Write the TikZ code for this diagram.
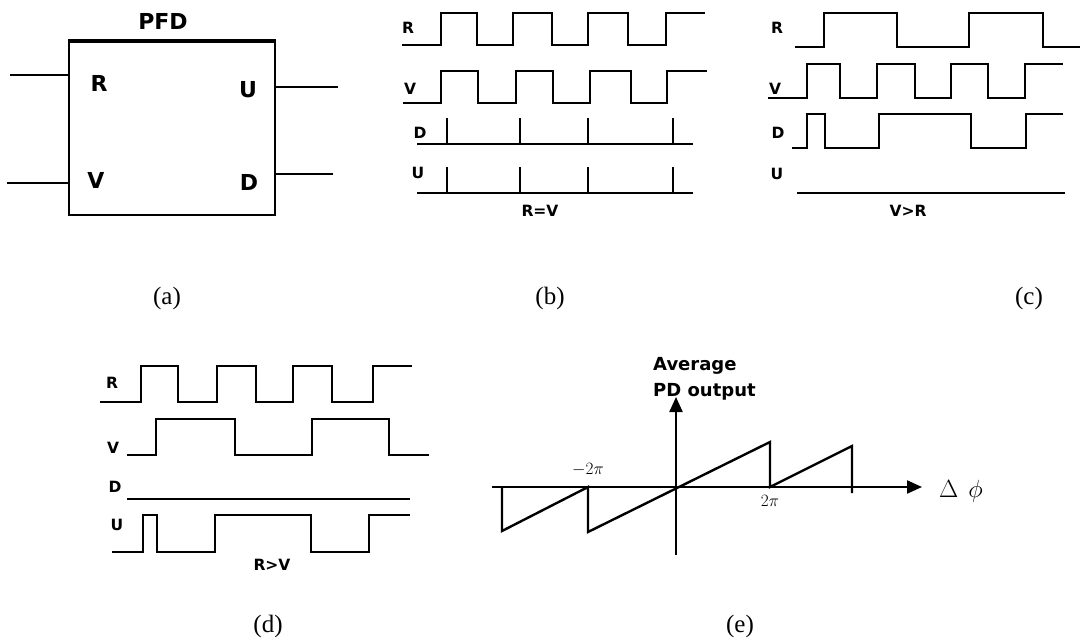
\documentclass[tikz,border=0pt]{standalone}
\usepackage{fontspec}
\newfontfamily\labfont{DejaVu Sans}
\newfontfamily\captfont{Liberation Serif}
\usetikzlibrary{arrows.meta}
\begin{document}
\begin{tikzpicture}[x=1pt,y=-1pt,
  wave/.style={line width=1.9pt, line join=miter},
  lab/.style={font=\labfont\bfseries\fontsize{15.5}{17}\selectfont, inner sep=0pt},
  biglab/.style={font=\labfont\bfseries\fontsize{22}{24}\selectfont, inner sep=0pt},
  avg/.style={font=\labfont\bfseries\fontsize{18}{20}\selectfont, inner sep=0pt},
  capt/.style={font=\captfont\fontsize{25}{28}\selectfont, inner sep=0pt},
  pilab/.style={font=\fontsize{16}{18}\selectfont, inner sep=0pt},
  axisline/.style={line width=2.2pt},
  tip/.style={-{Triangle[length=15pt,width=13pt]}}
]
\fill[white] (0,0) rectangle (1081,644);
\useasboundingbox (0,0) rectangle (1081,644);

% ---------------- (a) ----------------
\node[draw, line width=2.2pt, minimum width=206pt, minimum height=173pt, inner sep=0pt] (pfd) at (172,128.5) {};
\draw[line width=3pt] (pfd.north west) -- (pfd.north east);
\node[biglab] (pfdt) at (163,21) {PFD};
\node[biglab] (ar) at (99,83) {R};
\node[biglab] (av) at (96,180) {V};
\node[biglab] (au) at (248,90) {U};
\node[biglab] (ad) at (249,182) {D};
\coordinate (rin) at (10,75);
\coordinate (vin) at (7,183);
\coordinate (uout) at (338,87);
\coordinate (dout) at (333,174);
\draw[line width=1.3pt] (rin) -- (rin -| pfd.west);
\draw[line width=2.2pt] (vin) -- (vin -| pfd.west);
\draw[line width=2.2pt] (pfd.east |- uout) -- (uout);
\draw[line width=1.8pt] (pfd.east |- dout) -- (dout);
\node[capt] (capa) at (167,298) {(a)};

% ---------------- (b) ----------------
\node[lab] (br) at (408,28) {R};
\node[lab] (bv) at (410,89) {V};
\node[lab] (bd) at (420,133) {D};
\node[lab] (bu) at (418,173) {U};
\node[lab] (beq) at (540,211) {R=V};
\draw[wave] (402,45) -| (441,13) -| (477,45) -| (513,13) -| (552,45) -| (588,13) -| (628,45) -| (666,13) -- (705,13);
\draw[wave] (403,103) -| (441,71) -| (478,103) -| (516,71) -| (553,103) -| (590,71) -| (631,103) -| (667,71) -- (707,71);
\draw[wave] (417,144) -- (693,144);
\draw[wave] (417,193) -- (693,193);
\foreach \sx in {447,520,588,673}{
  \draw[wave] (\sx,144) -- (\sx,118);
  \draw[wave] (\sx,193) -- (\sx,167);
}
\node[capt] (capb) at (550,298) {(b)};

% ---------------- (c) ----------------
\node[lab] (cr) at (777,28) {R};
\node[lab] (cv) at (775,89) {V};
\node[lab] (cd) at (778,133) {D};
\node[lab] (cu) at (777,174) {U};
\node[lab] (cgt) at (908,211) {V>R};
\draw[wave] (795,47) -| (824,13) -| (897,47) -| (969,13) -| (1043,47) -- (1080,47);
\draw[wave] (768,98) -| (807,64) -| (840,98) -| (877,64) -| (915,98) -| (951,64) -| (988,98) -| (1025,64) -- (1063,64);
\draw[wave] (792,148) -| (807,114) -| (825,148) -| (879,114) -| (971,148) -| (1026,114) -- (1063,114);
\draw[wave] (797,193) -- (1065,193);
\node[capt] (capc) at (1029,298) {(c)};

% ---------------- (d) ----------------
\node[lab] (dr) at (112,383) {R};
\node[lab] (dv) at (113,448) {V};
\node[lab] (dd) at (115,487) {D};
\node[lab] (du) at (117,525) {U};
\node[lab] (dgt) at (272,565) {R>V};
\draw[wave] (100,402) -| (141,366) -| (178,402) -| (217,366) -| (256,402) -| (293,366) -| (332,402) -| (373,366) -- (412,366);
\draw[wave] (127,455) -| (156,419) -| (235,455) -| (312,419) -| (389,455) -- (429,455);
\draw[wave] (127,499) -- (410,499);
\draw[wave] (112,552) -| (143,515) -| (157,552) -| (215,515) -| (311,552) -| (369,515) -- (410,515);
\node[capt] (capd) at (268,626) {(d)};

% ---------------- (e) ----------------
\coordinate (xl) at (492,487);
\coordinate (xr) at (922,487);
\coordinate (yb) at (676,555);
\coordinate (yt) at (676,397);
\draw[axisline, tip] (xl) -- (xr);
\draw[axisline, tip] (yb) -- (yt);
\draw[line width=2.4pt, line join=miter] (502,487) -- (502,531) -- (588,487) -- (588,532) -- (770,442) -- (770,487) -- (852,446) -- (852,493);
\node[avg, anchor=base west] (avg1) at (653,370) {Average};
\node[avg, anchor=base west] (avg2) at (653,396) {PD output};
\node[pilab] (mtwopi) at (588,470) {$-2\pi$};
\node[pilab] (twopi) at (770,501) {$2\pi$};
\node[anchor=base, inner sep=0pt, font=\fontsize{31}{34}\selectfont] (dphi) at (961,497) {$\Delta\hskip 10pt\phi$};
\node[capt] (cape) at (740,626) {(e)};
\end{tikzpicture}
\end{document}
